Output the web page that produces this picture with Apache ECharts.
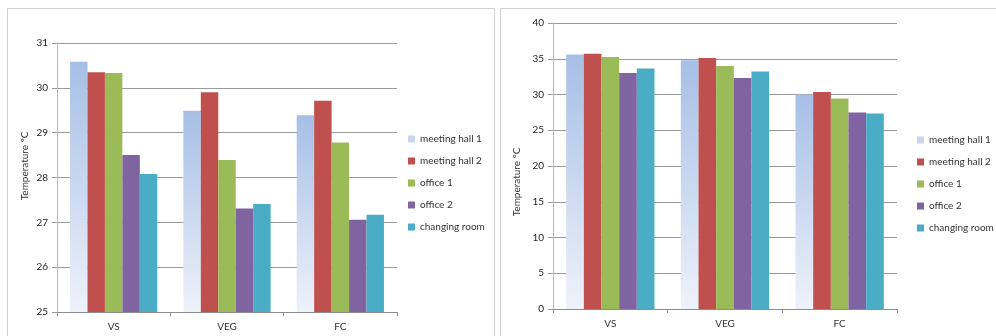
<!DOCTYPE html>
<html>
<head>
<meta charset="utf-8">
<script src="https://cdn.jsdelivr.net/npm/echarts@6/dist/echarts.min.js"></script>
<style>
  html, body { margin: 0; padding: 0; background: #fff; }
  #chart { width: 996px; height: 336px; }
</style>
</head>
<body>
<div id="chart"></div>
<script>
// Sites along the x axis
const categories = ['VS', 'VEG', 'FC'];
// Rooms (one bar series per room)
const rooms = ['meeting hall 1', 'meeting hall 2', 'office 1', 'office 2', 'changing room'];

// Mean temperatures (°C), left panel (zoomed range 25–31)
const meanHall1   = [30.58, 29.49, 29.39];
const meanHall2   = [30.35, 29.90, 29.71];
const meanOffice1 = [30.33, 28.39, 28.78];
const meanOffice2 = [28.50, 27.31, 27.06];
const meanChanging = [28.08, 27.41, 27.17];

// Maximum temperatures (°C), right panel (range 0–40)
const maxHall1   = [35.60, 34.80, 30.00];
const maxHall2   = [35.70, 35.10, 30.35];
const maxOffice1 = [35.25, 34.00, 29.45];
const maxOffice2 = [33.00, 32.30, 27.50];
const maxChanging = [33.65, 33.20, 27.35];

const leftValues = [meanHall1, meanHall2, meanOffice1, meanOffice2, meanChanging];
const rightValues = [maxHall1, maxHall2, maxOffice1, maxOffice2, maxChanging];

const FONT = 'Lato, "Open Sans", sans-serif';
const hall1Gradient = new echarts.graphic.LinearGradient(0, 0, 0, 1, [
  { offset: 0, color: '#a6bfe6' },
  { offset: 1, color: '#eef2fa' }
]);
const roomColors = [hall1Gradient, '#c0504d', '#9bbb59', '#8064a2', '#4bacc6'];
const legendIconColors = ['#c9d6ee', '#c0504d', '#9bbb59', '#8064a2', '#4bacc6'];

function makeXAxis(gridIndex) {
  return {
    type: 'category',
    gridIndex: gridIndex,
    data: categories,
    axisLine: { lineStyle: { color: '#8c8c8c', width: 1 } },
    axisTick: { show: true, length: 4, lineStyle: { color: '#8c8c8c' } },
    axisLabel: { color: '#333', fontSize: 10, fontFamily: FONT, margin: 10 }
  };
}

function makeYAxis(gridIndex, min, max, interval) {
  return {
    type: 'value',
    gridIndex: gridIndex,
    min: min, max: max, interval: interval,
    axisLine: { show: true, lineStyle: { color: '#b8b8b8', width: 1 } },
    axisTick: { show: true, length: 5, lineStyle: { color: '#999' } },
    axisLabel: { color: '#222', fontSize: 10, fontFamily: FONT, margin: 9 },
    splitLine: { show: true, lineStyle: { color: '#9a9a9a', width: 1.2 } }
  };
}

function makeSeries(values, axisIndex) {
  return values.map((vals, i) => ({
    name: rooms[i],
    type: 'bar',
    xAxisIndex: axisIndex,
    yAxisIndex: axisIndex,
    data: vals,
    barGap: '0%',
    barCategoryGap: '23%',
    itemStyle: { color: roomColors[i] },
    emphasis: { disabled: true },
    animation: false
  }));
}

function makeLegend(left, top) {
  return {
    orient: 'vertical',
    left: left,
    top: top,
    itemWidth: 7,
    itemHeight: 7,
    itemGap: 12,
    icon: 'rect',
    selectedMode: false,
    textStyle: { color: '#333', fontSize: 10, fontFamily: FONT },
    data: rooms.map((r, i) => ({ name: r, itemStyle: { color: legendIconColors[i] } }))
  };
}

const chart = echarts.init(document.getElementById('chart'), null, { renderer: 'canvas' });

chart.setOption({
  backgroundColor: '#fff',
  animation: false,
  grid: [
    { left: 57, right: 599, top: 43, bottom: 24 },
    { left: 553, right: 99, top: 23, bottom: 27 }
  ],
  xAxis: [makeXAxis(0), makeXAxis(1)],
  yAxis: [makeYAxis(0, 25, 31, 1), makeYAxis(1, 0, 40, 5)],
  legend: [makeLegend(403, 129), makeLegend(912, 130)],
  series: [...makeSeries(leftValues, 0), ...makeSeries(rightValues, 1)],
  graphic: [
    {
      type: 'rect', silent: true, z: -1,
      shape: { x: 7.5, y: 8.5, width: 487, height: 340 },
      style: { fill: 'none', stroke: '#cfcfcf', lineWidth: 1 }
    },
    {
      type: 'rect', silent: true, z: -1,
      shape: { x: 500.5, y: 8.5, width: 520, height: 340 },
      style: { fill: 'none', stroke: '#cfcfcf', lineWidth: 1 }
    },
    {
      type: 'text', x: 25, y: 166, rotation: Math.PI / 2,
      style: { text: 'Temperature ºC', fill: '#333', fontSize: 10, fontFamily: FONT,
               align: 'center', verticalAlign: 'middle' }
    },
    {
      type: 'text', x: 517, y: 182, rotation: Math.PI / 2,
      style: { text: 'Temperature ºC', fill: '#333', fontSize: 10, fontFamily: FONT,
               align: 'center', verticalAlign: 'middle' }
    }
  ]
});
</script>
</body>
</html>
